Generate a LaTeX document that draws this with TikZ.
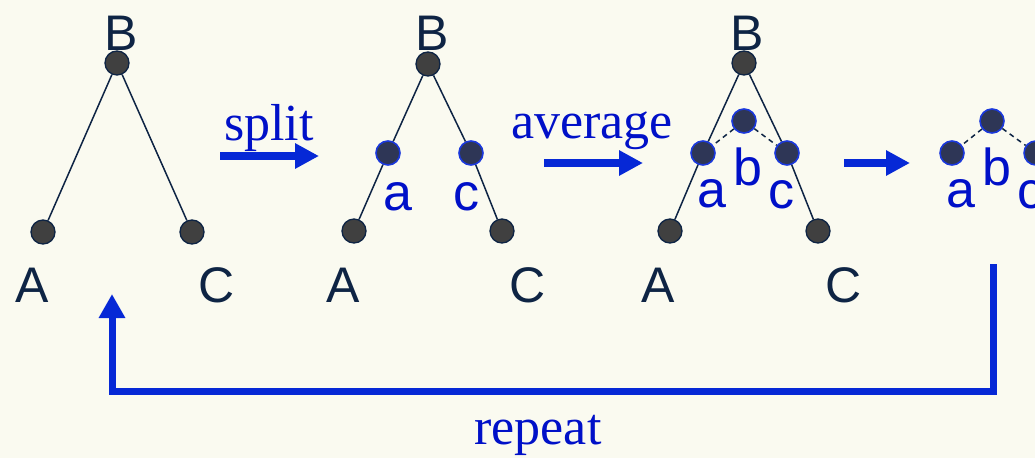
\documentclass[tikz,border=0pt]{standalone}
\usepackage{fontspec}
\setmainfont{Liberation Serif}
\newfontfamily\arialf{Liberation Sans}
\usetikzlibrary{arrows.meta}
\definecolor{bgc}{HTML}{FAFAF0}
\definecolor{navy}{HTML}{0E2444}
\definecolor{nodegray}{HTML}{404040}
\definecolor{bluenode}{HTML}{2E3656}
\definecolor{blueline}{HTML}{1A38DC}
\definecolor{arrblue}{HTML}{0628D6}
\definecolor{txtblue}{HTML}{0010C8}
\tikzset{
  dot/.style={circle,fill=nodegray,draw=navy,line width=1.3pt,minimum size=24pt,inner sep=0pt},
  bdot/.style={circle,fill=bluenode,draw=blueline,line width=1.6pt,minimum size=24pt,inner sep=0pt},
  edge/.style={draw=navy,line width=1.5pt},
  dedge/.style={draw=navy,line width=1.5pt,dash pattern=on 5pt off 4pt},
  big/.style={font=\arialf\fontsize{50}{60}\selectfont,text=navy,anchor=base,inner sep=0pt},
  small/.style={font=\arialf\fontsize{52}{60}\selectfont,text=txtblue,anchor=base,inner sep=0pt},
  serif/.style={font=\fontsize{52}{60}\selectfont,text=txtblue,anchor=base,inner sep=0pt},
  bigarrow/.style={draw=arrblue,line width=8pt,-{Triangle[length=24pt,width=24pt]}},
}
\begin{document}
\begin{tikzpicture}[x=1pt,y=-1pt]
\fill[bgc] (0,0) rectangle (1035,458);
\useasboundingbox (0,0) rectangle (1035,458);
% tree 1
\node[dot] (B1) at (117,63) {};
\node[dot] (A1) at (43,232) {};
\node[dot] (C1) at (192,232) {};
\draw[edge] (B1) -- (A1);
\draw[edge] (B1) -- (C1);
\node[big] (lB1) at (121,50) {B};
\node[big] (lA1) at (32,302) {A};
\node[big] (lC1) at (217,302) {C};
% arrow split
\coordinate (s1) at (220,156);
\coordinate (s2) at (319,156);
\draw[bigarrow] (s1) -- (s2);
\node[serif] (tsplit) at (269,140) {split};
% tree 2
\node[dot] (B2) at (428,64) {};
\node[dot] (A2) at (354,231) {};
\node[dot] (C2) at (502,231) {};
\node[bdot] (a2) at (388,153) {};
\node[bdot] (c2) at (471,153) {};
\draw[edge] (B2) -- (a2);
\draw[edge] (a2) -- (A2);
\draw[edge] (B2) -- (c2);
\draw[edge] (c2) -- (C2);
\node[big] (lB2) at (432,50) {B};
\node[big] (lA2) at (343,302) {A};
\node[big] (lC2) at (528,302) {C};
\node[small] (la2) at (398,210) {a};
\node[small] (lc2) at (466,210) {c};
% arrow average
\coordinate (v1) at (544,163);
\coordinate (v2) at (643,163);
\draw[bigarrow] (v1) -- (v2);
\node[serif] (tavg) at (592,138) {average};
% tree 3
\node[dot] (B3) at (744,63) {};
\node[dot] (A3) at (670,231) {};
\node[dot] (C3) at (818,231) {};
\node[bdot] (a3) at (703,153) {};
\node[bdot] (c3) at (787,153) {};
\node[bdot] (b3) at (744,121) {};
\draw[edge] (B3) -- (a3);
\draw[edge] (a3) -- (A3);
\draw[edge] (B3) -- (c3);
\draw[edge] (c3) -- (C3);
\draw[dedge] (b3) -- (a3);
\draw[dedge] (b3) -- (c3);
\node[big] (lB3) at (747,50) {B};
\node[big] (lA3) at (658,302) {A};
\node[big] (lC3) at (844,302) {C};
\node[small] (la3) at (712,207) {a};
\node[small] (lb3) at (748,185) {b};
\node[small] (lc3) at (781,208) {c};
% arrow 3
\coordinate (w1) at (844,163);
\coordinate (w2) at (910,163);
\draw[bigarrow] (w1) -- (w2);
% tree 4
\node[bdot] (b4) at (992,121) {};
\node[bdot] (a4) at (952,153) {};
\node[bdot] (c4) at (1036,153) {};
\draw[dedge] (b4) -- (a4);
\draw[dedge] (b4) -- (c4);
\node[small] (la4) at (961,207) {a};
\node[small] (lb4) at (997,185) {b};
\node[small] (lc4) at (1030,208) {c};
% repeat loop
\coordinate (r0) at (993,264);
\coordinate (r1) at (993,391);
\coordinate (r2) at (112,391);
\coordinate (r3) at (112,294);
\draw[draw=arrblue,line width=7pt,line join=miter,-{Triangle[length=24pt,width=25pt]}] (r0) -- (r1) -- (r2) -- (r3);
\node[serif] (trep) at (538,444) {repeat};
\end{tikzpicture}
\end{document}
